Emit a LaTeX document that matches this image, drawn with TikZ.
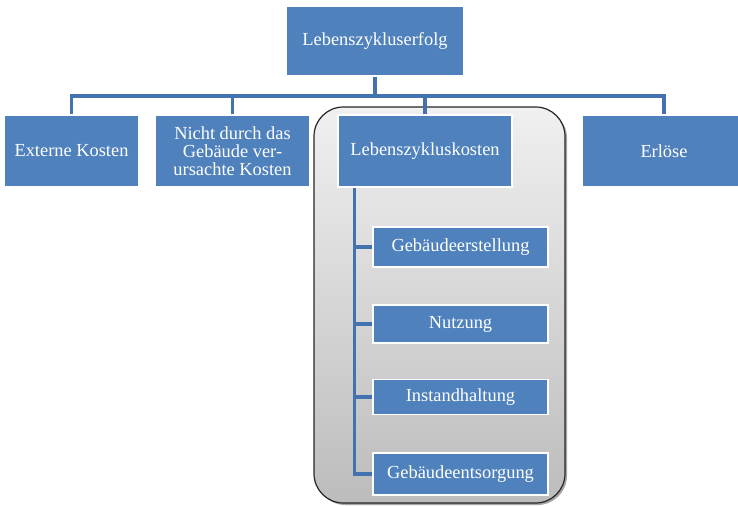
\documentclass[tikz,border=0pt]{standalone}
\usepackage{fontspec}
\setmainfont{Liberation Serif}
\usetikzlibrary{positioning}
\definecolor{boxblue}{HTML}{4F81BD}
\definecolor{lineblue}{HTML}{4373AF}
\definecolor{frametop}{HTML}{F0F0F0}
\definecolor{framebot}{HTML}{BCBCBC}

\begin{document}
\begin{tikzpicture}[x=0.75pt,y=-0.75pt,
    box/.style={draw=white,line width=0.8pt,fill=boxblue,text=white,align=center,
      inner sep=0pt,font=\fontsize{13.8}{13.6}\selectfont},
    conn/.style={draw=lineblue,line width=2.3pt}]
\useasboundingbox (0,0) rectangle (738,506);

% grauer Rahmen um die Lebenszykluskosten
\fill[black!35,rounded corners=22pt] (316,109) rectangle (567,505);
\shade[top color=frametop,bottom color=framebot,draw=black!85,line width=0.9pt,rounded corners=22pt]
  (314,107) rectangle (565,503);

% obere Ebene
\node[box,minimum width=133.5pt,minimum height=52.5pt] (erfolg) at (375,41) {Lebenszykluserfolg};
\node[box,minimum width=101.25pt,minimum height=54pt] (extern) at (71.5,151) {Externe Kosten};
\node[box,minimum width=116.25pt,minimum height=54pt] (nicht) at (232.5,151) {Nicht durch das\\Gebäude ver-\\ursachte Kosten};
\node[box,minimum width=130.5pt,minimum height=54pt] (lzk) at (425,151) {Lebenszykluskosten};
\node[box,minimum width=123pt,minimum height=54pt] (erloese) at (664,151) {Erlöse};

\coordinate (bus) at (375,96);
\draw[conn] (erfolg.south) -- (bus);
\draw[conn] (extern.north) |- (bus) -| (erloese.north);
\draw[conn] (nicht.north) -- (nicht.north |- bus);
\draw[conn] (lzk.north) -- (lzk.north |- bus);

% Phasen
\coordinate (spine) at ([xshift=12.75pt]lzk.south west);
\foreach \name/\y/\h [count=\n] in
    {Gebäudeerstellung/247/40,Nutzung/324/38,Instandhaltung/397/35,Gebäudeentsorgung/474/42}
  {
  \node[box,minimum width=131.25pt,minimum height=\h*0.75pt] (phase\n) at (460.5,\y) {\name};
  \draw[conn] (phase\n.west) -| (spine);
  }
\end{tikzpicture}
\end{document}
